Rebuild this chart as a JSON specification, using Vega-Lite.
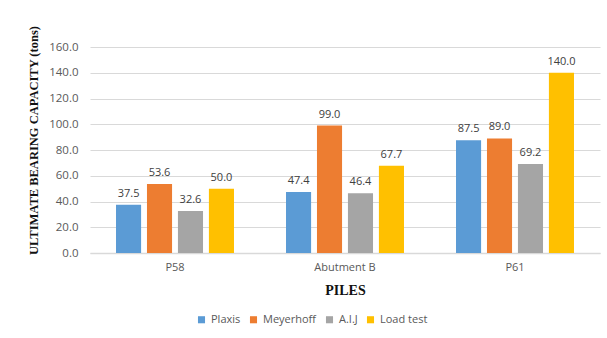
{
  "$schema": "https://vega.github.io/schema/vega-lite/v6.json",
  "width": 510,
  "height": 206,
  "autosize": {"type": "none"},
  "padding": {"left": 90, "top": 47, "right": 7, "bottom": 85},
  "background": "white",
  "config": {
    "view": {"stroke": null},
    "font": "Open Sans"
  },
  "data": {
    "values": [
      {"pile": "P58", "method": "Plaxis", "value": 37.5},
      {"pile": "P58", "method": "Meyerhoff", "value": 53.6},
      {"pile": "P58", "method": "A.I.J", "value": 32.6},
      {"pile": "P58", "method": "Load test", "value": 50.0},
      {"pile": "Abutment B", "method": "Plaxis", "value": 47.4},
      {"pile": "Abutment B", "method": "Meyerhoff", "value": 99.0},
      {"pile": "Abutment B", "method": "A.I.J", "value": 46.4},
      {"pile": "Abutment B", "method": "Load test", "value": 67.7},
      {"pile": "P61", "method": "Plaxis", "value": 87.5},
      {"pile": "P61", "method": "Meyerhoff", "value": 89.0},
      {"pile": "P61", "method": "A.I.J", "value": 69.2},
      {"pile": "P61", "method": "Load test", "value": 140.0}
    ]
  },
  "encoding": {
    "x": {
      "field": "pile",
      "type": "nominal",
      "sort": ["P58", "Abutment B", "P61"],
      "scale": {"paddingInner": 0, "paddingOuter": 0},
      "axis": {
        "title": "PILES",
        "titleFont": "Liberation Serif",
        "titleFontWeight": "bold",
        "titleFontSize": 14,
        "titleColor": "#111111",
        "titleY": 37,
        "titleBaseline": "middle",
        "labelAngle": 0,
        "labelColor": "#595959",
        "labelFontSize": 11,
        "labelPadding": 8,
        "ticks": false,
        "domainColor": "#d9d9d9",
        "domainWidth": 1.5
      }
    },
    "xOffset": {
      "field": "method",
      "sort": ["Plaxis", "Meyerhoff", "A.I.J", "Load test"],
      "scale": {"paddingInner": 0.19, "paddingOuter": 0.84}
    },
    "y": {
      "field": "value",
      "type": "quantitative",
      "scale": {"domain": [0, 160], "nice": false},
      "axis": {
        "values": [0, 20, 40, 60, 80, 100, 120, 140, 160],
        "format": ".1f",
        "domain": false,
        "ticks": false,
        "gridColor": "#d9d9d9",
        "labelColor": "#595959",
        "labelFontSize": 11.5,
        "labelPadding": 12,
        "title": "ULTIMATE BEARING CAPACITY (tons)",
        "titleFont": "Liberation Serif",
        "titleFontWeight": "bold",
        "titleFontSize": 12.5,
        "titleColor": "#111111",
        "titleAngle": 270,
        "titleX": -57,
        "titleY": 93,
        "titleBaseline": "middle",
        "titleAlign": "center"
      }
    }
  },
  "layer": [
    {
      "mark": {"type": "bar"},
      "encoding": {
        "color": {
          "field": "method",
          "type": "nominal",
          "sort": ["Plaxis", "Meyerhoff", "A.I.J", "Load test"],
          "scale": {
            "domain": ["Plaxis", "Meyerhoff", "A.I.J", "Load test"],
            "range": ["#5B9BD5", "#ED7D31", "#A5A5A5", "#FFC000"]
          },
          "legend": {
            "title": null,
            "orient": "none",
            "direction": "horizontal",
            "legendX": 106,
            "legendY": 267,
            "symbolType": "square",
            "symbolSize": 50,
            "symbolStrokeWidth": 0,
            "labelColor": "#595959",
            "labelFontSize": 11,
            "labelOffset": 4,
            "columnPadding": 7
          }
        }
      }
    },
    {
      "mark": {
        "type": "text",
        "dy": -11,
        "fontSize": 11,
        "color": "#404040"
      },
      "encoding": {
        "text": {"field": "value", "type": "quantitative", "format": ".1f"}
      }
    }
  ]
}
